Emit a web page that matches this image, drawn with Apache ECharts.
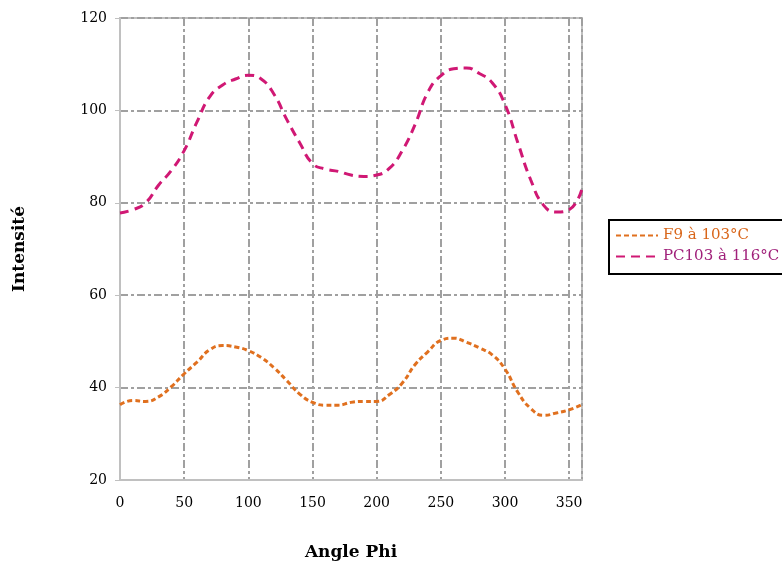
<!DOCTYPE html>
<html>
<head>
<meta charset="utf-8">
<script src="https://cdn.jsdelivr.net/npm/echarts@6/dist/echarts.min.js"></script>
<style>html,body{margin:0;padding:0;background:#fff}#c{width:782px;height:566px}</style>
</head>
<body>
<div id="c"></div>
<script>
const angles = [0,10,20,30,40,50,60,70,80,90,100,110,120,130,140,150,160,170,180,190,200,210,220,230,240,250,260,270,280,290,300,310,320,330,340,350,360];
const f9 = [36.3,37.2,37.0,38.0,40.2,43.0,45.5,48.2,49.1,48.8,48.0,46.5,44.3,41.5,38.6,36.8,36.2,36.2,36.8,37.0,37.0,38.5,41.0,45.0,47.8,50.2,50.7,49.8,48.6,47.1,44.0,39.0,35.5,34.0,34.5,35.2,36.3];
const pc103 = [77.8,78.5,80.0,83.8,87.0,91.3,97.5,103.0,105.5,106.8,107.6,106.8,103.5,98.0,93.0,88.5,87.3,86.8,86.0,85.7,86.0,87.5,91.3,97.0,104.0,107.5,109.0,109.2,108.0,106.0,101.3,93.0,85.0,79.5,78.0,78.5,83.0];
const seriesNames = ['F9 à 103°C', 'PC103 à 116°C'];
const xTitle = 'Angle Phi';
const yTitle = 'Intensité';

const pair = (ys) => angles.map((a, i) => [a, ys[i]]);
const font = 'DejaVu Serif, Liberation Serif, serif';
const gridDash = [8, 3, 3, 3];

const chart = echarts.init(document.getElementById('c'));
chart.setOption({
  animation: false,
  backgroundColor: '#fff',
  grid: { left: 120, top: 18, width: 462, height: 463, show: true, borderColor: '#c0c0c0', borderWidth: 2, containLabel: false },
  xAxis: {
    type: 'value', min: 0, max: 360, interval: 50,
    name: xTitle, nameLocation: 'middle', nameGap: 64,
    nameTextStyle: { fontFamily: font, fontWeight: 'bold', fontSize: 17, color: '#000' },
    axisLine: { show: true, lineStyle: { color: '#c0c0c0', width: 2 } },
    axisTick: { show: false },
    axisLabel: { fontFamily: font, fontSize: 14, color: '#000', margin: 16, showMaxLabel: false },
    splitLine: { show: true, lineStyle: { color: '#a0a0a0', width: 2, type: gridDash } }
  },
  yAxis: {
    type: 'value', min: 20, max: 120, interval: 20,
    name: yTitle, nameLocation: 'middle', nameGap: 92, nameRotate: 90,
    nameTextStyle: { fontFamily: font, fontWeight: 'bold', fontSize: 17, color: '#000' },
    axisLine: { show: true, lineStyle: { color: '#c0c0c0', width: 2 } },
    axisTick: { show: true, length: 5, inside: false, lineStyle: { color: '#c0c0c0' } },
    axisLabel: { fontFamily: font, fontSize: 14, color: '#000', margin: 13 },
    splitLine: { show: true, lineStyle: { color: '#a0a0a0', width: 2, type: gridDash } }
  },
  legend: {
    orient: 'vertical', left: 609, top: 220,
    backgroundColor: '#fff', borderColor: '#000', borderWidth: 2,
    padding: [8, 10, 10, 6], itemGap: 6, itemWidth: 42, itemHeight: 12,
    itemStyle: { color: 'transparent', borderColor: 'transparent', borderWidth: 0 },
    data: [
      { name: seriesNames[0], textStyle: { color: '#d9661a' } },
      { name: seriesNames[1], textStyle: { color: '#a0207a' } }
    ],
    textStyle: { fontFamily: font, fontSize: 15 }
  },
  series: [
    {
      name: seriesNames[0], type: 'line', data: pair(f9), smooth: 0.5,
      symbol: 'none', showSymbol: false,
      lineStyle: { color: '#e0701f', width: 3, type: [5, 3] },
      itemStyle: { color: '#e0701f' }
    },
    {
      name: seriesNames[1], type: 'line', data: pair(pc103), smooth: 0.5,
      symbol: 'none', showSymbol: false,
      lineStyle: { color: '#d01874', width: 3, type: [9, 6] },
      itemStyle: { color: '#d01874' }
    }
  ]
});
</script>
</body>
</html>
